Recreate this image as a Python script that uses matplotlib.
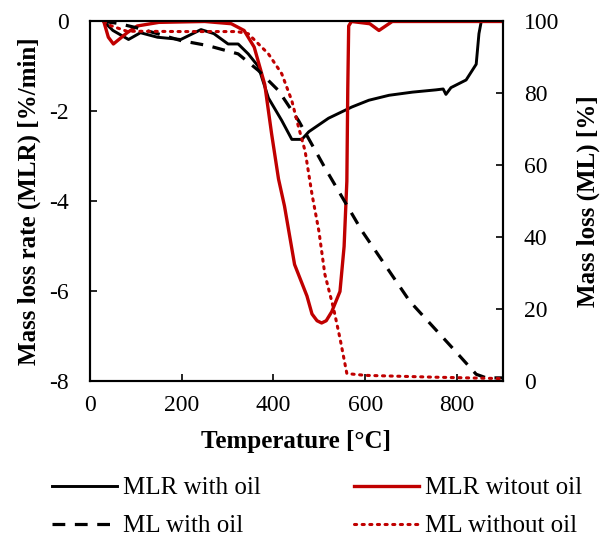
import numpy as np
import matplotlib
matplotlib.use("Agg")
import matplotlib.pyplot as plt

# MLR with oil (left axis)
t_mlr_oil = [30, 50, 84, 110, 147, 198, 242, 270, 301, 323, 345, 367, 389, 418, 440,
             462, 477, 520, 571, 608, 652, 703, 754, 770, 776, 787, 820, 842, 848, 853, 900]
mlr_oil = [0.0, -0.2, -0.4, -0.25, -0.35, -0.4, -0.18, -0.27, -0.5, -0.5, -0.72, -1.0, -1.7,
           -2.2, -2.62, -2.62, -2.45, -2.15, -1.9, -1.75, -1.64, -1.57, -1.52, -1.5, -1.62,
           -1.47, -1.3, -0.95, -0.27, 0.0, 0.0]

# MLR without oil (left axis)
t_mlr_no = [30, 40, 51, 81, 103, 150, 250, 308, 336, 358, 381, 396, 411, 424, 446, 473,
            484, 495, 505, 515, 527, 545, 554, 560, 562, 564, 570, 610, 630, 659, 900]
mlr_no = [0.0, -0.35, -0.5, -0.25, -0.1, -0.02, 0.0, -0.05, -0.2, -0.57, -1.4, -2.5, -3.5,
          -4.1, -5.4, -6.1, -6.5, -6.65, -6.7, -6.65, -6.45, -6.0, -5.0, -3.55, -1.5, -0.1,
          0.0, -0.05, -0.2, 0.0, 0.0]

# ML with oil (right axis)
t_ml_oil = [30, 60, 100, 150, 198, 257, 323, 367, 411, 455, 512, 593, 697, 791, 842, 864, 900]
ml_oil = [100, 99.5, 98.3, 96.5, 94.7, 93.3, 91, 86.4, 80.8, 72.4, 59.4, 41.8, 22.3, 9.2, 2,
          1, 1]

# ML without oil (right axis)
t_ml_no = [30, 44, 80, 200, 320, 345, 389, 418, 440, 455, 469, 484, 499, 512, 531, 545,
           560, 600, 750, 900]
ml_no = [100, 98.9, 97.3, 97.2, 97.2, 96.6, 91, 85.5, 78, 70.5, 64, 52, 41.8, 29.8, 20.3,
         12, 2.2, 1.7, 1.2, 0.8]

red = "#C00000"
plt.rcParams["font.family"] = ["Liberation Serif", "DejaVu Serif"]
plt.rcParams["axes.unicode_minus"] = False

fig = plt.figure(figsize=(6.0, 5.37), dpi=100)
ax = fig.add_axes([0.15, 0.2896, 0.688, 0.6704])
ax2 = ax.twinx()

l1, = ax.plot(t_mlr_oil, mlr_oil, color="black", lw=2.1, label="MLR with oil")
l2, = ax.plot(t_mlr_no, mlr_no, color=red, lw=2.4, label="MLR witout oil")
l3, = ax2.plot(t_ml_oil, ml_oil, color="black", lw=2.3, ls=(0, (4, 3)), label="ML with oil")
l4, = ax2.plot(t_ml_no, ml_no, color=red, lw=2.2, ls=(0, (0.7, 1.8)),
               dash_capstyle="round", label="ML without oil")

ax.set_xlim(0, 900)
ax.set_ylim(-8, 0)
ax2.set_ylim(0, 100)
ax.set_xticks([0, 200, 400, 600, 800])
ax.set_yticks([0, -2, -4, -6, -8])
ax2.set_yticks([0, 20, 40, 60, 80, 100])
ax.tick_params(axis="x", direction="in", length=5, width=1.2, pad=10, labelsize=17)
ax.tick_params(axis="y", direction="in", length=5, width=1.2, pad=15, labelsize=17)
ax2.tick_params(axis="y", direction="in", length=5, width=1.2, pad=15, labelsize=17)
for a in (ax, ax2):
    for s in a.spines.values():
        s.set_linewidth(1.5)

ax.set_xlabel("Temperature [°C]", fontweight="bold", fontsize=18, labelpad=10)
ax.set_ylabel("Mass loss rate (MLR) [%/min]", fontweight="bold", fontsize=18, labelpad=6)
ax2.set_ylabel("Mass loss (ML) [%]", fontweight="bold", fontsize=18, labelpad=13)

fig.legend(handles=[l1, l3, l2, l4], loc="upper left", bbox_to_anchor=(52 / 600, 1 - 477 / 537),
           ncol=2, frameon=False, fontsize=18, handlelength=2.6, columnspacing=3.7,
           handletextpad=0.25, labelspacing=0.62, borderpad=0, borderaxespad=0)

fig.savefig("out.png", dpi=100)
